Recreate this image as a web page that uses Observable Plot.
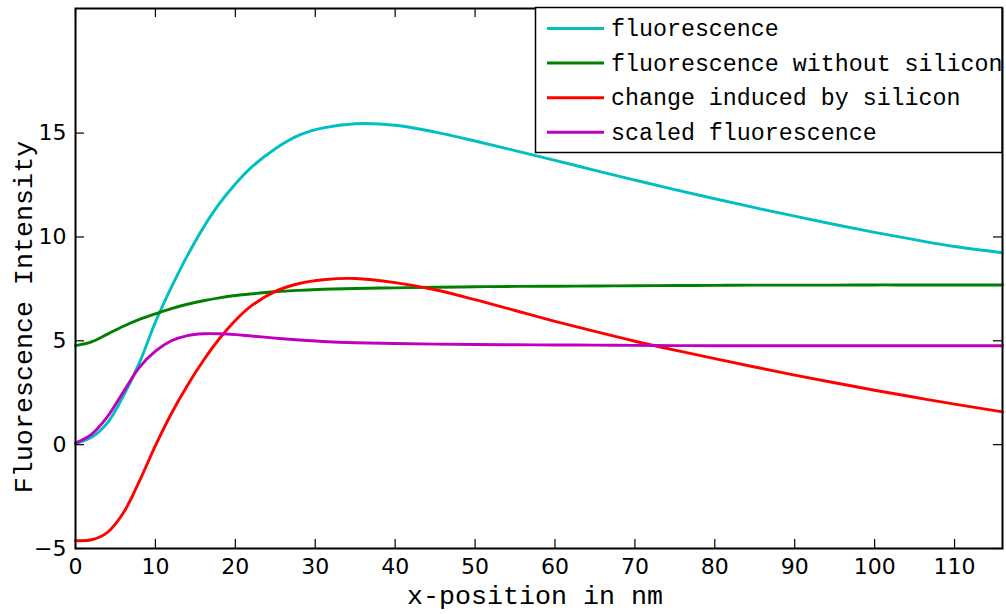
<!DOCTYPE html>
<html><head><meta charset="utf-8">
<script src="https://cdn.jsdelivr.net/npm/d3@7"></script>
<script src="https://cdn.jsdelivr.net/npm/@observablehq/plot@0.6"></script>
<style>body{margin:0;background:#fff} #chart{width:1006px;height:614px}</style>
</head><body><div id="chart"></div>
<script>
const xs = [0,2,4,6,8,10,12,14,16,18,20,22,25,28,31,35,40,45,50,55,60,65,70,75,80,85,90,95,100,105,110,116];
const fluorescence = [0.05,0.35,1.05,2.35,3.95,5.9,7.58,9.1,10.45,11.6,12.55,13.35,14.25,14.9,15.25,15.45,15.38,15.05,14.62,14.16,13.69,13.21,12.74,12.28,11.84,11.41,11.0,10.6,10.22,9.87,9.54,9.24];
const withoutSilicon = [4.77,4.95,5.32,5.7,6.03,6.3,6.55,6.76,6.93,7.07,7.18,7.26,7.36,7.43,7.48,7.52,7.55,7.58,7.6,7.62,7.63,7.64,7.65,7.66,7.67,7.68,7.68,7.68,7.69,7.69,7.69,7.69];
const changeBySilicon = [-4.62,-4.58,-4.22,-3.28,-1.75,-0.05,1.5,2.85,4.05,5.1,5.98,6.68,7.38,7.76,7.94,8.0,7.8,7.46,6.98,6.46,5.94,5.45,4.98,4.55,4.14,3.74,3.35,2.98,2.62,2.28,1.95,1.58];
const scaledFluorescence = [0.08,0.5,1.35,2.55,3.72,4.5,5.0,5.25,5.34,5.34,5.3,5.23,5.13,5.04,4.97,4.91,4.87,4.84,4.82,4.81,4.8,4.79,4.78,4.77,4.76,4.76,4.76,4.76,4.76,4.76,4.76,4.76];

const seriesNames = ["fluorescence","fluorescence without silicon","change induced by silicon","scaled fluorescence"];
const seriesColors = ["#00bfbf","#008000","#ff0000","#bf00bf"];
const xTicks = [0,10,20,30,40,50,60,70,80,90,100,110];
const yTicks = [-5,0,5,10,15];
const xLabel = "x-position in nm";
const yLabel = "Fluorescence Intensity";

const rows = [];
[fluorescence, withoutSilicon, changeBySilicon, scaledFluorescence].forEach((vals, i) =>
  vals.forEach((v, j) => rows.push({series: seriesNames[i], x: xs[j], y: v})));

const W = 1006, H = 614, mL = 75, mR = 4, mT = 8, mB = 66;
const innerW = W - mL - mR, innerH = H - mT - mB;
const tickLen = 9;
const tickFont = "'DejaVu Sans', sans-serif";
const monoFont = "'Liberation Mono', 'DejaVu Sans Mono', monospace";

const plot = Plot.plot({
  width: W, height: H,
  marginLeft: mL, marginRight: mR, marginTop: mT, marginBottom: mB,
  x: {domain: [0, 116]},
  y: {domain: [-5, 21]},
  color: {domain: seriesNames, range: seriesColors},
  style: {background: "white"},
  marks: [
    Plot.line(rows, {x: "x", y: "y", z: "series", stroke: "series", strokeWidth: 2.9, curve: "catmull-rom"}),
    Plot.tickX(xTicks, {x: d => d, insetTop: innerH - tickLen, stroke: "black", strokeWidth: 1.2}),
    Plot.tickX(xTicks, {x: d => d, insetBottom: innerH - tickLen, stroke: "black", strokeWidth: 1.2}),
    Plot.tickY(yTicks, {y: d => d, insetRight: innerW - tickLen, stroke: "black", strokeWidth: 1.2}),
    Plot.tickY(yTicks, {y: d => d, insetLeft: innerW - tickLen, stroke: "black", strokeWidth: 1.2}),
    Plot.axisX(xTicks, {tickSize: 0, tickPadding: 10, fontSize: 22, fontFamily: tickFont, fill: "black", label: null}),
    Plot.axisY(yTicks, {tickSize: 0, tickPadding: 9, fontSize: 22, fontFamily: tickFont, fill: "black", label: null}),
    Plot.frame({stroke: "black", strokeWidth: 2})
  ]
});

const svg = d3.select(plot);
svg.append("text")
  .attr("x", 535).attr("y", 604).attr("text-anchor", "middle")
  .attr("fill", "black").style("font-family", monoFont).style("font-size", "26.7px")
  .text(xLabel);
svg.append("text")
  .attr("transform", "translate(31.5,317) rotate(-90)").attr("text-anchor", "middle")
  .attr("fill", "black").style("font-family", monoFont).style("font-size", "26.7px")
  .text(yLabel);

// legend
const defs = svg.append("defs");
defs.append("clipPath").attr("id", "legclip")
  .append("rect").attr("x", 535).attr("y", 7).attr("width", 467).attr("height", 146);
const lg = svg.append("g");
lg.append("rect").attr("x", 535.5).attr("y", 7.5).attr("width", 466.5).attr("height", 145)
  .attr("fill", "white").attr("stroke", "black").attr("stroke-width", 1.5);
seriesNames.forEach((name, i) => {
  const cy = 28.5 + i * 34.6;
  lg.append("line").attr("x1", 547).attr("x2", 604).attr("y1", cy).attr("y2", cy)
    .attr("stroke", seriesColors[i]).attr("stroke-width", 3);
  lg.append("text").attr("x", 611).attr("y", cy + 7.5).attr("text-anchor", "start")
    .attr("clip-path", "url(#legclip)")
    .attr("fill", "black").style("font-family", monoFont).style("font-size", "23.3px")
    .text(name);
});

document.getElementById("chart").appendChild(plot);
</script>
</body></html>
